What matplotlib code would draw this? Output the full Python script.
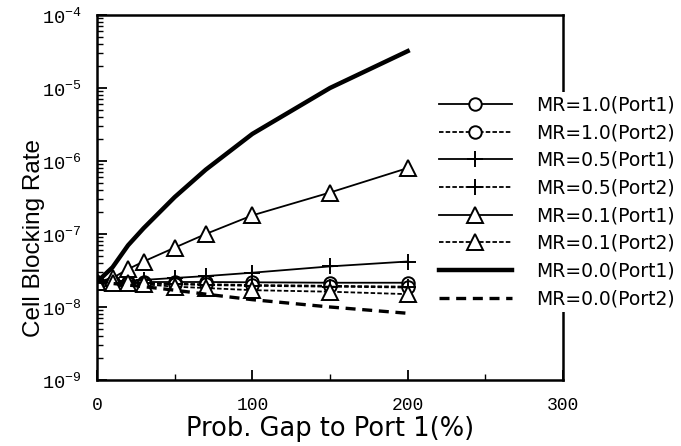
import numpy as np
import matplotlib
matplotlib.use("Agg")
import matplotlib.pyplot as plt
from matplotlib.ticker import FixedLocator, LogLocator, NullFormatter

plt.rcParams['mathtext.fontset'] = 'custom'
plt.rcParams['mathtext.rm'] = 'Liberation Mono'
plt.rcParams['mathtext.it'] = 'Liberation Mono'

# prob. gap to port 1 (%)
gap = [0, 10, 20, 30, 50, 70, 100, 150, 200]

# cell blocking rate
mr10_p1 = [2.2e-8, 2.2e-8, 2.2e-8, 2.2e-8, 2.2e-8, 2.2e-8, 2.18e-8, 2.15e-8, 2.15e-8]
mr10_p2 = [2.2e-8, 2.18e-8, 2.15e-8, 2.12e-8, 2.08e-8, 2.05e-8, 2.0e-8, 1.95e-8, 1.9e-8]
mr05_p1 = [2.2e-8, 2.25e-8, 2.3e-8, 2.35e-8, 2.5e-8, 2.65e-8, 2.95e-8, 3.6e-8, 4.2e-8]
mr05_p2 = [2.2e-8, 2.17e-8, 2.13e-8, 2.1e-8, 2.05e-8, 2.0e-8, 1.95e-8, 1.9e-8, 1.85e-8]
mr01_p1 = [2.2e-8, 2.5e-8, 3.3e-8, 4.2e-8, 6.5e-8, 1.0e-7, 1.8e-7, 3.7e-7, 8.0e-7]
mr01_p2 = [2.2e-8, 2.15e-8, 2.1e-8, 2.05e-8, 1.9e-8, 1.82e-8, 1.7e-8, 1.62e-8, 1.5e-8]
mr00_p1 = [2.2e-8, 3.5e-8, 7.0e-8, 1.2e-7, 3.2e-7, 7.6e-7, 2.35e-6, 1.0e-5, 3.2e-5]
mr00_p2 = [2.2e-8, 2.1e-8, 2.0e-8, 1.9e-8, 1.7e-8, 1.5e-8, 1.26e-8, 1.0e-8, 8.2e-9]

xticks = [0, 100, 200, 300]
yticks = [1e-9, 1e-8, 1e-7, 1e-6, 1e-5, 1e-4]
ytick_labels = [r'$\mathrm{10^{-9}}$', r'$\mathrm{10^{-8}}$', r'$\mathrm{10^{-7}}$',
                r'$\mathrm{10^{-6}}$', r'$\mathrm{10^{-5}}$', r'$\mathrm{10^{-4}}$']

fig = plt.figure(figsize=(6.81, 4.46), dpi=100)
ax = fig.add_axes([97 / 681, 1 - 380 / 446, 466 / 681, 365 / 446])

thin = dict(color='black', lw=1.3, mfc='white', mew=1.4)
fine_dash = (0, (2.5, 1.2))
ax.plot(gap, mr10_p1, '-', marker='o', ms=9, label='MR=1.0(Port1)', **thin)
ax.plot(gap, mr10_p2, linestyle=fine_dash, marker='o', ms=9, label='MR=1.0(Port2)', **thin)
ax.plot(gap, mr05_p1, '-', marker='+', ms=12, label='MR=0.5(Port1)', **thin)
ax.plot(gap, mr05_p2, linestyle=fine_dash, marker='+', ms=12, label='MR=0.5(Port2)', **thin)
ax.plot(gap, mr01_p1, '-', marker='^', ms=11, label='MR=0.1(Port1)', **thin)
ax.plot(gap, mr01_p2, linestyle=fine_dash, marker='^', ms=11, label='MR=0.1(Port2)', **thin)
ax.plot(gap, mr00_p1, '-', color='black', lw=3.2, label='MR=0.0(Port1)')
ax.plot(gap, mr00_p2, linestyle=(0, (3, 2)), color='black', lw=2.4, label='MR=0.0(Port2)')

ax.set_yscale('log')
ax.set_xlim(0, 300)
ax.set_ylim(1e-9, 1e-4)

ax.xaxis.set_major_locator(FixedLocator(xticks))
ax.xaxis.set_minor_locator(FixedLocator([50, 150, 250]))
ax.set_yticks(yticks)
ax.set_yticklabels(ytick_labels)
ax.yaxis.set_minor_locator(LogLocator(base=10, subs=np.arange(2, 10)))
ax.yaxis.set_minor_formatter(NullFormatter())

ax.tick_params(which='both', direction='in', top=False, right=False)
ax.tick_params(which='major', length=7, width=1.3)
ax.tick_params(which='minor', length=4, width=1.0)
ax.tick_params(axis='x', pad=12)
ax.tick_params(axis='y', pad=11)
for lab in ax.get_xticklabels():
    lab.set_family('Liberation Mono')
    lab.set_fontsize(13)
for lab in ax.get_yticklabels():
    lab.set_fontsize(13.5)
for s in ax.spines.values():
    s.set_linewidth(1.8)

ax.set_xlabel('Prob. Gap to Port 1(%)', fontsize=18.5, family='DejaVu Sans', labelpad=2)
ax.set_ylabel('Cell Blocking Rate', fontsize=17.5, family='Liberation Sans')
ax.yaxis.set_label_coords(-0.112, 0.39)

leg = ax.legend(loc='upper left', bbox_to_anchor=(435 / 681, 1 - 92 / 446),
                bbox_transform=fig.transFigure, frameon=True, fancybox=False,
                facecolor='white', edgecolor='none', framealpha=1,
                borderpad=0.2, borderaxespad=0, numpoints=1,
                handlelength=3.9, handletextpad=1.3, labelspacing=0.46,
                prop={'family': 'DejaVu Sans', 'size': 13.5})

fig.savefig('out.png', dpi=100)
